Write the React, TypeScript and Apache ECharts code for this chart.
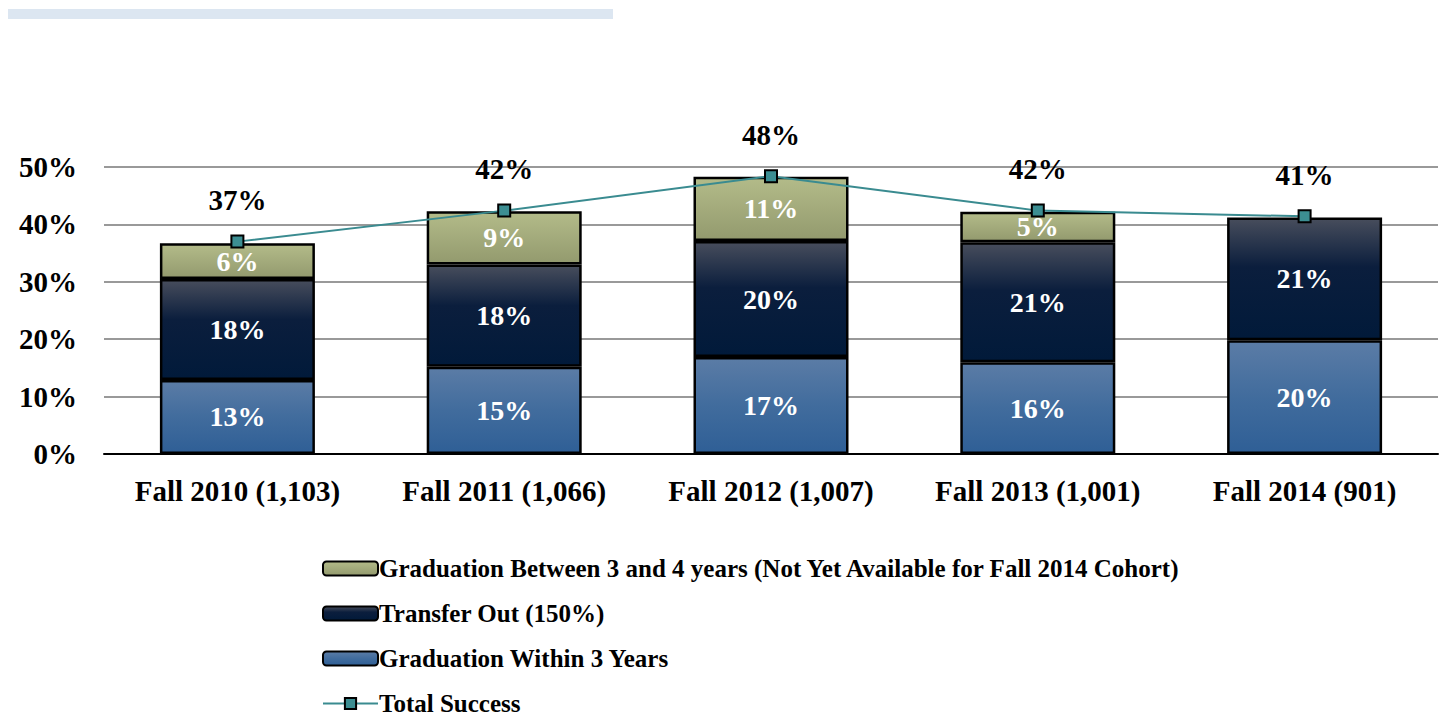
import React, { useEffect, useRef } from "react";
import * as echarts from "echarts";

const categories = ["Fall 2010 (1,103)", "Fall 2011 (1,066)", "Fall 2012 (1,007)", "Fall 2013 (1,001)", "Fall 2014 (901)"];
const gradWithin3 = [12.9, 15.2, 16.9, 16.0, 19.8];
const transferOut = [17.6, 17.8, 20.2, 20.9, 21.4];
const gradBetween3and4: (number | null)[] = [6.2, 9.3, 11.2, 5.3, null];
const totalSuccess = [37.0, 42.4, 48.4, 42.4, 41.4];
const yTicks = [0, 10, 20, 30, 40, 50];

const FONT = "'Liberation Serif', 'Times New Roman', serif";

const vgrad = (stops: [number, string][]) =>
  new echarts.graphic.LinearGradient(0, 0, 0, 1, stops.map(([offset, color]) => ({ offset, color })));

export default function App() {
  const ref = useRef<HTMLDivElement>(null);
  useEffect(() => {
    if (!ref.current) return;
    const chart = echarts.init(ref.current, null, { renderer: "svg" });
    const barLabel = {
      show: true,
      position: "inside",
      color: "#ffffff",
      fontFamily: FONT,
      fontWeight: "bold",
      fontSize: 28,
      formatter: (p: any) => (p.value == null ? "" : Math.round(p.value) + "%"),
    };
    const border = { borderColor: "#000000", borderWidth: 2.5 };
    chart.setOption({
      animation: false,
      textStyle: { fontFamily: FONT },
      graphic: [
        {
          type: "rect",
          left: 8,
          top: 9,
          shape: { width: 605, height: 10 },
          style: { fill: "#dce6f1" },
        },
      ],
      grid: { left: 104, right: 5, top: 167, bottom: 265, containLabel: false },
      legend: {
        orient: "vertical",
        left: 322,
        top: 556,
        height: 300,
        itemGap: 20,
        itemWidth: 55,
        itemHeight: 14,
        padding: 0,
        textStyle: {
          fontFamily: FONT,
          fontWeight: "bold",
          fontSize: 25,
          color: "#000",
          padding: [0, 0, 0, -4],
        },
        data: [
          "Graduation Between 3 and 4 years (Not Yet Available for Fall 2014 Cohort)",
          "Transfer Out (150%)",
          "Graduation Within 3 Years",
          "Total Success",
        ],
      },
      xAxis: {
        type: "category",
        data: categories,
        axisTick: { show: false },
        axisLine: { lineStyle: { color: "#000", width: 2 } },
        axisLabel: { interval: 0, color: "#000", fontFamily: FONT, fontWeight: "bold", fontSize: 29, margin: 22 },
      },
      yAxis: {
        type: "value",
        min: yTicks[0],
        max: yTicks[yTicks.length - 1],
        interval: 10,
        axisLine: { show: false },
        axisTick: { show: false },
        splitLine: { lineStyle: { color: "#999999", width: 2 } },
        axisLabel: {
          color: "#000",
          fontFamily: FONT,
          fontWeight: "bold",
          fontSize: 29,
          margin: 27,
          formatter: (v: number) => v + "%",
        },
      },
      series: [
        {
          name: "Graduation Within 3 Years",
          type: "bar",
          stack: "s",
          barWidth: 155,
          data: gradWithin3,
          itemStyle: { color: vgrad([[0, "#5b7ca6"], [0.5, "#416c9d"], [1, "#2f5f96"]]), ...border },
          label: barLabel,
        },
        {
          name: "Transfer Out (150%)",
          type: "bar",
          stack: "s",
          barWidth: 155,
          data: transferOut,
          itemStyle: { color: vgrad([[0, "#474d5c"], [0.4, "#0b1e3d"], [1, "#011a3a"]]), ...border },
          label: barLabel,
        },
        {
          name: "Graduation Between 3 and 4 years (Not Yet Available for Fall 2014 Cohort)",
          type: "bar",
          stack: "s",
          barWidth: 155,
          data: gradBetween3and4,
          itemStyle: { color: vgrad([[0, "#b3bb89"], [1, "#939a6e"]]), ...border },
          label: barLabel,
        },
        {
          name: "Total Success",
          type: "line",
          data: totalSuccess,
          symbol: "rect",
          symbolSize: 12,
          lineStyle: { color: "#3a8b90", width: 2 },
          itemStyle: { color: "#3c8e92", borderColor: "#000", borderWidth: 2 },
          label: {
            show: true,
            position: "top",
            distance: 20,
            color: "#000",
            fontFamily: FONT,
            fontWeight: "bold",
            fontSize: 29,
            formatter: (p: any) => Math.round(p.value) + "%",
          },
          z: 5,
        },
      ],
    });
    return () => chart.dispose();
  }, []);
  return <div ref={ref} style={{ width: 1443, height: 719, position: "absolute", left: 0, top: 0 }} />;
}
